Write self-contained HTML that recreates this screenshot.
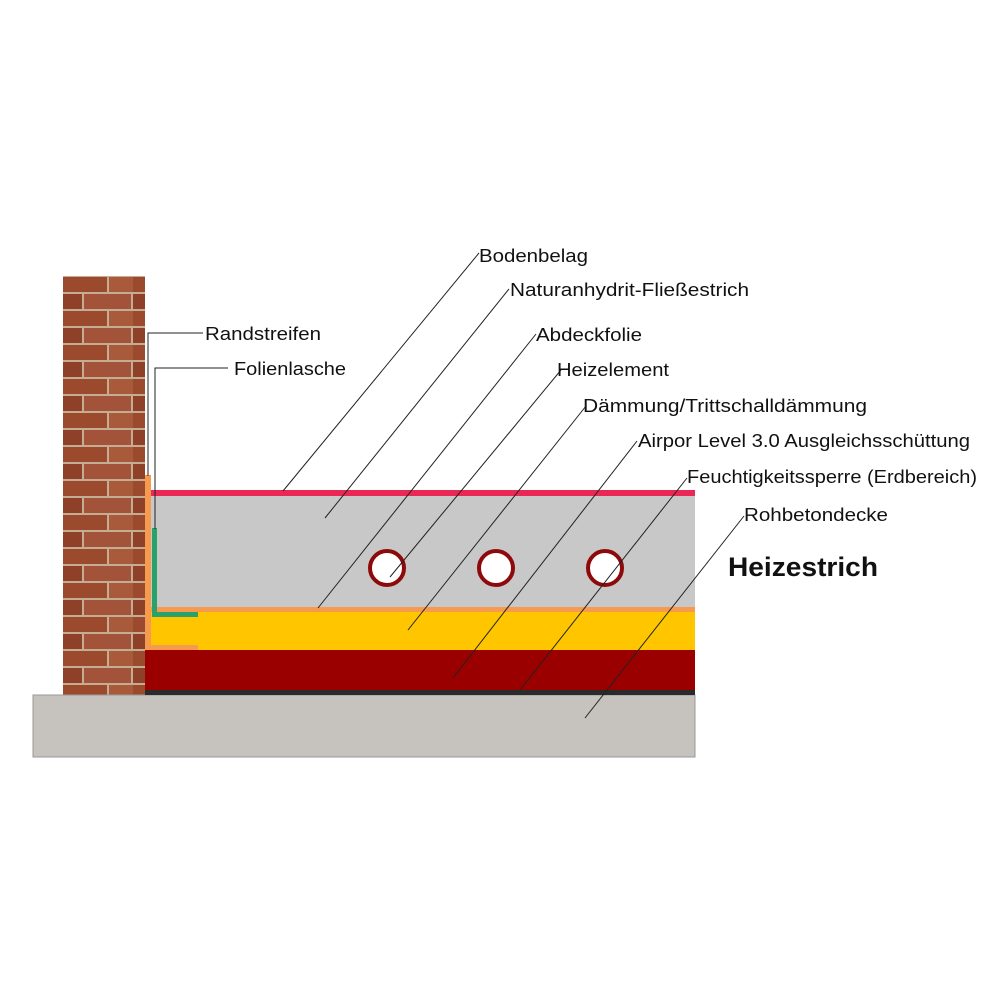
<!DOCTYPE html>
<html><head><meta charset="utf-8"><style>
html,body{margin:0;padding:0;background:#fff;}
svg{display:block}
text{font-family:"Liberation Sans",sans-serif;font-size:18px;fill:#111}
</style></head><body>
<svg width="1000" height="1000" viewBox="0 0 1000 1000" xmlns="http://www.w3.org/2000/svg">
<defs>
<pattern id="brick" x="63" y="276" width="70" height="34" patternUnits="userSpaceOnUse">
<rect width="70" height="34" fill="#c4ad93"/>
<rect x="0" y="1" width="44" height="15" fill="#9b4a2e"/>
<rect x="46" y="1" width="24" height="15" fill="#a85a3a"/>
<rect x="0" y="18" width="19" height="15" fill="#8e4028"/>
<rect x="21" y="18" width="47" height="15" fill="#a2533a"/>
</pattern>
</defs>
<rect x="63" y="276" width="82" height="420" fill="url(#brick)"/>
<rect x="33" y="695" width="662" height="62" fill="#c6c3be" stroke="#999" stroke-width="1"/>
<rect x="145" y="690" width="550" height="5" fill="#2a2a2a"/>
<rect x="145" y="650" width="550" height="40" fill="#9b0000"/>
<rect x="151" y="612" width="544" height="38" fill="#ffc600"/>
<rect x="151" y="607" width="544" height="5" fill="#f59a4e"/>
<rect x="151" y="496" width="544" height="111" fill="#c8c8c8"/>
<rect x="151" y="490" width="544" height="6" fill="#ea2755"/>
<rect x="145" y="475" width="6" height="175" fill="#f59a4e"/>
<rect x="145" y="645" width="53" height="5" fill="#f59a4e"/>
<rect x="152" y="528" width="5" height="89" fill="#2aa06a"/>
<rect x="152" y="612" width="46" height="5" fill="#2aa06a"/>
<g fill="#fff" stroke="#8e0a0a" stroke-width="4">
<circle cx="387" cy="568" r="17"/>
<circle cx="496" cy="568" r="17"/>
<circle cx="605" cy="568" r="17"/>
</g>
<g stroke="#222" stroke-width="1" fill="none">
<polyline points="203,333 148,333 148,476"/>
<polyline points="228,368 155,368 155,529"/>
<line x1="479" y1="253" x2="283" y2="491"/>
<line x1="509" y1="289" x2="325" y2="518"/>
<line x1="536" y1="334" x2="318" y2="608"/>
<line x1="561" y1="370" x2="390" y2="577"/>
<line x1="586" y1="406" x2="408" y2="630"/>
<line x1="637" y1="441" x2="453" y2="678"/>
<line x1="687" y1="478" x2="520" y2="690"/>
<line x1="744" y1="516" x2="585" y2="718"/>
</g>
<text x="479" y="262" textLength="109" lengthAdjust="spacingAndGlyphs">Bodenbelag</text>
<text x="510" y="296" textLength="239" lengthAdjust="spacingAndGlyphs">Naturanhydrit-Fließestrich</text>
<text x="536" y="341" textLength="106" lengthAdjust="spacingAndGlyphs">Abdeckfolie</text>
<text x="557" y="376" textLength="112" lengthAdjust="spacingAndGlyphs">Heizelement</text>
<text x="583" y="412" textLength="284" lengthAdjust="spacingAndGlyphs">Dämmung/Trittschalldämmung</text>
<text x="638" y="447" textLength="332" lengthAdjust="spacingAndGlyphs">Airpor Level 3.0 Ausgleichsschüttung</text>
<text x="687" y="483" textLength="290" lengthAdjust="spacingAndGlyphs">Feuchtigkeitssperre (Erdbereich)</text>
<text x="744" y="521" textLength="144" lengthAdjust="spacingAndGlyphs">Rohbetondecke</text>
<text x="205" y="340" textLength="116" lengthAdjust="spacingAndGlyphs">Randstreifen</text>
<text x="234" y="375" textLength="112" lengthAdjust="spacingAndGlyphs">Folienlasche</text>
<text x="728" y="576" style="font-size:27px;font-weight:bold" textLength="150" lengthAdjust="spacingAndGlyphs">Heizestrich</text>
</svg>
</body></html>
